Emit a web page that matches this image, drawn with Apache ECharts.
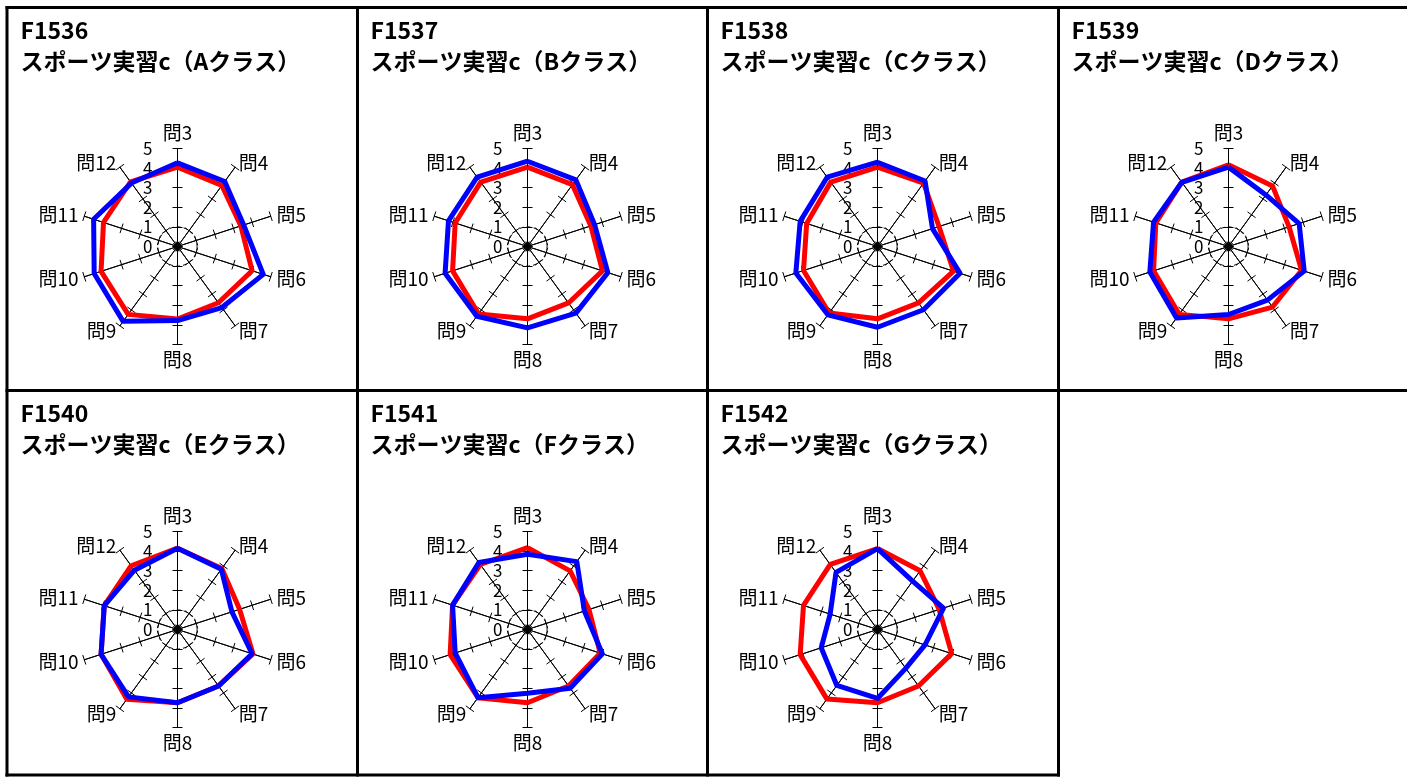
<!DOCTYPE html>
<html lang="ja">
<head>
    <meta charset="UTF-8">
    <title>スポーツ実習c</title>
    <style>
        body{
            margin: 0;
            background: #fff;
        }
    </style>
</head>
<body>
<div id="myChart" style="width: 1407px;height: 779px;"></div>
<script src="https://cdn.jsdelivr.net/npm/echarts@6/dist/echarts.min.js"></script>
<script>
    // 設問
    const questions = ['問3', '問4', '問5', '問6', '問7', '問8', '問9', '問10', '問11', '問12'];
    const codes = ['F1536', 'F1537', 'F1538', 'F1539', 'F1540', 'F1541', 'F1542'];
    const classes = ['A', 'B', 'C', 'D', 'E', 'F', 'G'];

    // 赤 (問3 ～ 問12)
    const redA = [4.05, 3.85, 3.4, 4.0, 3.55, 3.7, 4.28, 4.1, 3.97, 4.08];
    const redB = [4.05, 3.9, 3.4, 4.02, 3.56, 3.69, 4.25, 4.02, 3.88, 4.06];
    const redC = [4.05, 4.0, 3.3, 4.08, 3.56, 3.69, 4.2, 3.97, 3.8, 4.06];
    const redD = [4.17, 3.82, 3.25, 3.92, 3.82, 3.69, 4.28, 4.02, 3.9, 4.06];
    const redE = [4.15, 3.85, 3.33, 4.05, 3.56, 3.74, 4.4, 4.1, 3.93, 4.02];
    const redF = [4.18, 3.7, 3.3, 3.9, 3.56, 3.74, 4.3, 4.15, 4.02, 4.1];
    const redG = [4.13, 3.7, 3.31, 3.98, 3.56, 3.74, 4.39, 4.15, 3.97, 4.1];
    // 青
    const blueA = [4.27, 4.1, 3.55, 4.6, 3.85, 3.78, 4.72, 4.47, 4.5, 4.0];
    const blueB = [4.35, 4.2, 3.6, 4.31, 4.2, 4.15, 4.4, 4.42, 4.24, 4.37];
    const blueC = [4.3, 4.13, 2.95, 4.43, 3.99, 4.12, 4.31, 4.38, 4.15, 4.37];
    const blueD = [4.05, 3.25, 3.79, 4.06, 3.38, 3.47, 4.51, 4.22, 4.02, 4.05];
    const blueE = [4.15, 3.8, 2.92, 4.0, 3.56, 3.74, 4.25, 4.1, 3.93, 3.74];
    const blueF = [3.84, 4.28, 3.05, 4.02, 3.7, 3.25, 4.3, 3.88, 4.02, 4.22];
    const blueG = [4.13, 3.05, 3.54, 2.55, 2.45, 3.52, 3.53, 3.02, 2.54, 3.6];

    const reds = [redA, redB, redC, redD, redE, redF, redG];
    const blues = [blueA, blueB, blueC, blueD, blueE, blueF, blueG];

    const font = '"Noto Sans CJK JP", sans-serif';
    const colX = [7.5, 357.5, 707.5, 1058.5];
    const rowY = [7.5, 390.5];

    var myChart = echarts.init(document.getElementById('myChart'));

    // echarts の radar は反時計回りなので並びを反転
    const order = [0, 9, 8, 7, 6, 5, 4, 3, 2, 1];
    const reorder = arr => order.map(i => arr[i]);
    const clear = 'rgba(0,0,0,0)';

    let titles = [];
    let radars = [];
    let series = [];

    codes.forEach(function (code, k) {
        let left = colX[k % 4];
        let top = rowY[Math.floor(k / 4)];
        titles.push({
            text: code + '\nスポーツ実習c（' + classes[k] + 'クラス）',
            left: left + 13,
            top: top + 7,
            padding: 0,
            textStyle: {
                fontFamily: font,
                fontSize: 23,
                fontWeight: 'bold',
                lineHeight: 31,
                color: '#000'
            }
        });
        let center = [left + 170, top + 239];
        let base = {
            center: center,
            radius: 98,
            startAngle: 90,
            splitNumber: 5,
            shape: 'circle',
            nameGap: 6,
            axisName: { color: '#000', fontSize: 19, fontFamily: font },
            axisLine: { lineStyle: { color: '#000', width: 1 } },
            axisTick: { show: true, length: 5, lineStyle: { color: '#000', width: 1 } },
            axisLabel: { show: false },
            splitArea: { show: false },
            splitLine: {
                show: true,
                lineStyle: {
                    color: [clear, '#000', clear, clear, clear, clear],
                    type: [4, 3],
                    width: 1
                }
            }
        };
        // 目盛ラベル付き
        radars.push(Object.assign({}, base, {
            indicator: reorder(questions).map((q, i) => ({
                name: q, min: 0, max: 5,
                axisLabel: i === 0 ? { show: true, color: '#000', fontSize: 17, fontFamily: font, margin: 25 } : { show: false }
            }))
        }));
        // 反対側の目盛
        radars.push(Object.assign({}, base, {
            axisName: { show: false },
            axisTick: { show: true, length: -5, lineStyle: { color: '#000', width: 1 } },
            splitLine: { show: false },
            indicator: questions.map(q => ({ name: q, min: 0, max: 5 }))
        }));
        series.push({
            type: 'radar',
            radarIndex: k * 2,
            symbol: 'none',
            z: 3,
            data: [
                { value: reorder(reds[k]), lineStyle: { color: '#ff0000', width: 5 }, itemStyle: { color: '#ff0000' } },
                { value: reorder(blues[k]), lineStyle: { color: '#0000ff', width: 5 }, itemStyle: { color: '#0000ff' } }
            ]
        });
    });

    // 枠線
    let lines = [
        [5.5, 7.5, 1407, 7.5],
        [5.5, 390.5, 1407, 390.5],
        [5.5, 775, 1060, 775],
        [7, 6, 7, 776.5],
        [357.5, 6, 357.5, 776.5],
        [707.5, 6, 707.5, 776.5],
        [1058.5, 6, 1058.5, 776.5]
    ];
    let graphics = lines.map(l => ({
        type: 'line',
        shape: { x1: l[0], y1: l[1], x2: l[2], y2: l[3] },
        style: { stroke: '#000', lineWidth: 3 },
        z: 10
    }));

    option = {
        backgroundColor: '#fff',
        animation: false,
        title: titles,
        radar: radars,
        series: series,
        graphic: graphics
    };
    myChart.setOption(option);
</script>
</body>
</html>
